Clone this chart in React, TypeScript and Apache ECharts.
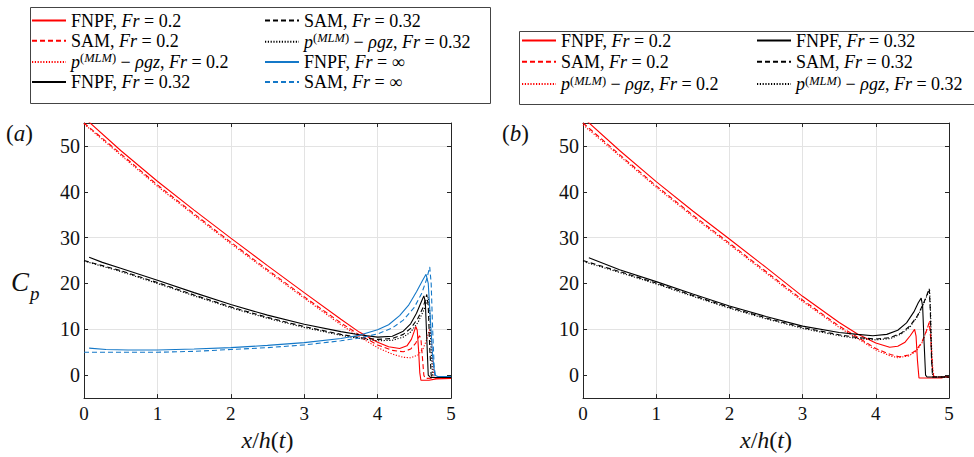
import React, { useEffect, useRef } from 'react';
import * as echarts from 'echarts';

// ---------------- DATA ----------------
const X_TICK_VALUES = [0, 1, 2, 3, 4, 5];
const Y_TICK_VALUES = [0, 10, 20, 30, 40, 50];

// Panel (a)
const fnpf02A: [number, number][] = [[0, 56.2], [0.5, 49.0], [1, 42.3], [1.5, 36.0], [2, 29.9], [2.5, 23.9], [3, 18.0], [3.5, 12.2], [3.75, 9.4], [4, 7.2], [4.15, 6.2], [4.3, 5.8], [4.4, 6.4], [4.46, 7.8], [4.5, 9.6], [4.52, 10.6], [4.54, 9.8], [4.56, 5.0], [4.575, 0.5], [4.59, -1.1], [4.7, -1.1], [4.8, -0.8], [5, -0.7]];
const sam02A: [number, number][] = [[0, 55.0], [0.5, 48.3], [1, 41.5], [1.5, 35.2], [2, 29.0], [2.5, 23.0], [3, 17.1], [3.5, 11.4], [3.75, 8.8], [4, 6.6], [4.2, 5.4], [4.35, 5.1], [4.45, 5.7], [4.52, 7.0], [4.57, 8.6], [4.59, 8.0], [4.61, 4.0], [4.63, 0], [4.65, -0.7], [5, -0.6]];
const mlm02A: [number, number][] = [[0, 54.8], [0.5, 48.0], [1, 41.2], [1.5, 34.9], [2, 28.7], [2.5, 22.7], [3, 16.8], [3.5, 11.0], [3.75, 8.4], [4, 6.0], [4.2, 4.6], [4.35, 3.9], [4.45, 3.8], [4.55, 4.4], [4.62, 5.8], [4.67, 7.8], [4.71, 10.1], [4.73, 8.5], [4.75, 3], [4.77, -0.5], [5, -0.6]];
const fnpf032A: [number, number][] = [[0.07, 25.7], [0.25, 24.6], [0.5, 23.3], [1, 20.7], [1.5, 18.0], [2, 15.4], [2.5, 13.1], [3, 11.1], [3.5, 9.5], [3.75, 8.8], [4, 8.3], [4.2, 8.5], [4.35, 9.6], [4.45, 11.2], [4.53, 13.5], [4.59, 15.8], [4.63, 17.3], [4.65, 16], [4.67, 8], [4.69, 0], [4.72, -0.5], [5, -0.5]];
const sam032A: [number, number][] = [[0, 25.0], [0.5, 22.8], [1, 20.2], [1.5, 17.5], [2, 14.9], [2.5, 12.6], [3, 10.6], [3.5, 8.9], [3.75, 8.2], [4, 7.8], [4.2, 8.0], [4.35, 8.9], [4.45, 10.2], [4.55, 12.4], [4.62, 14.8], [4.67, 17.6], [4.69, 15], [4.71, 6], [4.73, 0], [4.75, -0.5], [5, -0.5]];
const mlm032A: [number, number][] = [[0, 24.9], [0.5, 22.6], [1, 20.0], [1.5, 17.3], [2, 14.7], [2.5, 12.4], [3, 10.4], [3.5, 8.7], [3.75, 8.0], [4, 7.5], [4.2, 7.6], [4.35, 8.3], [4.45, 9.4], [4.55, 11.5], [4.63, 14.2], [4.69, 17.0], [4.71, 14], [4.73, 5], [4.75, 0], [4.77, -0.5], [5, -0.5]];
const fnpfInfA: [number, number][] = [[0.07, 5.9], [0.3, 5.6], [0.6, 5.5], [1, 5.5], [1.5, 5.7], [2, 6.0], [2.5, 6.5], [3, 7.1], [3.5, 8.0], [3.75, 8.7], [4, 9.9], [4.15, 11.0], [4.3, 13.0], [4.42, 15.2], [4.53, 18.2], [4.61, 20.6], [4.66, 22.0], [4.69, 20], [4.72, 12], [4.75, 4], [4.78, 0], [4.82, -0.3], [5, -0.3]];
const samInfA: [number, number][] = [[0, 5.0], [0.5, 5.0], [1, 5.0], [1.5, 5.2], [2, 5.6], [2.5, 6.0], [3, 6.6], [3.5, 7.5], [3.75, 8.1], [4, 9.0], [4.2, 10.3], [4.35, 12.0], [4.5, 14.8], [4.6, 17.8], [4.67, 21.0], [4.71, 23.6], [4.73, 20], [4.75, 10], [4.77, 2], [4.79, -0.3], [5, -0.3]];

// Panel (b)
const fnpf02B: [number, number][] = [[0, 56.2], [0.5, 49.0], [1, 42.2], [1.5, 35.8], [2, 29.7], [2.5, 23.5], [3, 17.2], [3.5, 11.5], [3.75, 9.0], [4, 7.0], [4.19, 6.1], [4.3, 6.3], [4.4, 7.2], [4.47, 8.6], [4.53, 10.0], [4.55, 8.5], [4.57, 3.0], [4.59, -0.6], [4.9, -0.6], [4.95, -0.3], [5, -0.5]];
const sam02B: [number, number][] = [[0, 55.0], [0.5, 48.1], [1, 41.3], [1.5, 34.9], [2, 28.8], [2.5, 22.6], [3, 16.4], [3.5, 10.7], [3.75, 8.3], [4, 5.8], [4.2, 4.5], [4.32, 4.0], [4.45, 4.4], [4.55, 5.4], [4.63, 7.2], [4.69, 9.6], [4.73, 11.5], [4.75, 8], [4.77, 2], [4.79, -0.4], [5, -0.4]];
const mlm02B: [number, number][] = [[0, 54.6], [0.5, 47.8], [1, 41.0], [1.5, 34.6], [2, 28.5], [2.5, 22.3], [3, 16.1], [3.5, 10.4], [3.75, 8.0], [4, 5.5], [4.2, 4.2], [4.3, 3.8], [4.45, 4.2], [4.55, 5.2], [4.63, 7.0], [4.69, 9.6], [4.74, 11.8], [4.76, 7], [4.78, 1], [4.8, -0.4], [5, -0.4]];
const fnpf032B: [number, number][] = [[0.08, 25.6], [0.5, 23.0], [1, 20.4], [1.5, 17.7], [2, 15.1], [2.5, 12.8], [3, 10.7], [3.5, 9.3], [3.75, 8.9], [3.96, 8.6], [4.15, 8.9], [4.3, 9.8], [4.42, 11.4], [4.52, 13.8], [4.58, 15.8], [4.62, 16.8], [4.64, 15], [4.66, 7], [4.68, 0], [4.7, -0.4], [5, -0.4]];
const sam032B: [number, number][] = [[0, 25.0], [0.5, 22.6], [1, 20.1], [1.5, 17.4], [2, 14.8], [2.5, 12.5], [3, 10.4], [3.5, 8.8], [3.75, 8.2], [4, 7.9], [4.2, 8.2], [4.35, 9.2], [4.47, 10.8], [4.57, 13.0], [4.65, 15.6], [4.7, 17.6], [4.73, 18.9], [4.745, 14], [4.76, 4], [4.775, -0.4], [5, -0.4]];
const mlm032B: [number, number][] = [[0, 24.8], [0.5, 22.4], [1, 19.9], [1.5, 17.2], [2, 14.6], [2.5, 12.3], [3, 10.2], [3.5, 8.6], [3.75, 8.0], [4, 7.7], [4.2, 8.0], [4.35, 9.0], [4.47, 10.6], [4.57, 12.8], [4.65, 15.4], [4.7, 17.4], [4.735, 18.6], [4.75, 13], [4.765, 3], [4.78, -0.4], [5, -0.4]];

const NAMES = {
  fnpf02: 'FNPF, Fr = 0.2',
  sam02: 'SAM, Fr = 0.2',
  mlm02: 'p(MLM) − ρgz, Fr = 0.2',
  fnpf032: 'FNPF, Fr = 0.32',
  sam032: 'SAM, Fr = 0.32',
  mlm032: 'p(MLM) − ρgz, Fr = 0.32',
  fnpfInf: 'FNPF, Fr = ∞',
  samInf: 'SAM, Fr = ∞',
};

const RICH_LABEL: Record<string, string> = {
  [NAMES.fnpf02]: '{n|FNPF, }{i|Fr}{n| = 0.2}',
  [NAMES.sam02]: '{n|SAM, }{i|Fr}{n| = 0.2}',
  [NAMES.mlm02]: '{i|p}{s|(}{si|MLM}{s|)}{n| − }{i|ρgz}{n|, }{i|Fr}{n| = 0.2}',
  [NAMES.fnpf032]: '{n|FNPF, }{i|Fr}{n| = 0.32}',
  [NAMES.sam032]: '{n|SAM, }{i|Fr}{n| = 0.32}',
  [NAMES.mlm032]: '{i|p}{s|(}{si|MLM}{s|)}{n| − }{i|ρgz}{n|, }{i|Fr}{n| = 0.32}',
  [NAMES.fnpfInf]: '{n|FNPF, }{i|Fr}{n| = ∞}',
  [NAMES.samInf]: '{n|SAM, }{i|Fr}{n| = ∞}',
};

const RED = '#ff0000';
const BLACK = '#000000';
const BLUE = '#1478c8';
const FONT = 'Liberation Serif';
const AXIS_COLOR = '#262626';
const GRID_COLOR = '#e3e3e3';

export default function App() {
  const ref = useRef<HTMLDivElement>(null);

  useEffect(() => {
    if (!ref.current) return;
    const chart = echarts.init(ref.current, null, { renderer: 'svg' });

    const grids = [
      { left: 84, top: 123, width: 367, height: 280 },
      { left: 583, top: 123, width: 366, height: 280 },
    ];

    const xAxes: any[] = [];
    const yAxes: any[] = [];
    grids.forEach((_, gi) => {
      xAxes.push({
        type: 'value', gridIndex: gi, position: 'bottom', min: 0, max: 5, interval: 1,
        axisLine: { show: true, onZero: false, lineStyle: { color: AXIS_COLOR, width: 1 } },
        axisTick: { show: true, inside: true, length: 4, lineStyle: { color: AXIS_COLOR } },
        axisLabel: { show: true, margin: 6, fontFamily: FONT, fontSize: 19, color: '#111',
          customValues: X_TICK_VALUES },
        splitLine: { show: true, lineStyle: { color: GRID_COLOR, width: 1 } },
      });
      xAxes.push({
        type: 'value', gridIndex: gi, position: 'top', min: 0, max: 5, interval: 1,
        axisLine: { show: true, onZero: false, lineStyle: { color: AXIS_COLOR, width: 1 } },
        axisTick: { show: true, inside: true, length: 4, lineStyle: { color: AXIS_COLOR } },
        axisLabel: { show: false },
        splitLine: { show: false },
      });
      yAxes.push({
        type: 'value', gridIndex: gi, position: 'left', min: -5, max: 55, interval: 5,
        axisLine: { show: true, onZero: false, lineStyle: { color: AXIS_COLOR, width: 1 } },
        axisTick: { show: true, inside: true, length: 4, lineStyle: { color: AXIS_COLOR },
          customValues: Y_TICK_VALUES },
        axisLabel: { show: true, margin: 4, fontFamily: FONT, fontSize: 20, color: '#111',
          customValues: Y_TICK_VALUES },
        splitLine: { show: true, lineStyle: { color: ['rgba(0,0,0,0)', GRID_COLOR], width: 1 } },
      });
      yAxes.push({
        type: 'value', gridIndex: gi, position: 'right', min: -5, max: 55, interval: 5,
        axisLine: { show: true, onZero: false, lineStyle: { color: AXIS_COLOR, width: 1 } },
        axisTick: { show: true, inside: true, length: 4, lineStyle: { color: AXIS_COLOR },
          customValues: Y_TICK_VALUES },
        axisLabel: { show: false },
        splitLine: { show: false },
      });
    });
    [0, 2].forEach((ai) => {
      xAxes[ai].name = '{i|x}{n|/}{i|h}{n|(}{i|t}{n|)}';
      xAxes[ai].nameLocation = 'middle';
      xAxes[ai].nameGap = 23;
      xAxes[ai].nameTextStyle = {
        fontFamily: FONT, fontSize: 24, color: '#111',
        rich: {
          i: { fontFamily: FONT, fontSize: 24, fontStyle: 'italic', color: '#111' },
          n: { fontFamily: FONT, fontSize: 24, color: '#111' },
        },
      };
    });

    const mk = (name: string, data: [number, number][], color: string, type: any, gi: number) => ({
      type: 'line', name, data,
      xAxisIndex: gi * 2, yAxisIndex: gi * 2,
      symbol: 'none', showSymbol: false, clip: true,
      lineStyle: { color, width: 1.1, type },
      itemStyle: { color },
      emphasis: { disabled: true },
      z: 3,
    });

    const DASH = [5, 3];
    const DOT = [1.2, 1.6];

    const series = [
      mk(NAMES.fnpf02, fnpf02A, RED, 'solid', 0),
      mk(NAMES.sam02, sam02A, RED, DASH, 0),
      mk(NAMES.mlm02, mlm02A, RED, DOT, 0),
      mk(NAMES.fnpf032, fnpf032A, BLACK, 'solid', 0),
      mk(NAMES.sam032, sam032A, BLACK, DASH, 0),
      mk(NAMES.mlm032, mlm032A, BLACK, DOT, 0),
      mk(NAMES.fnpfInf, fnpfInfA, BLUE, 'solid', 0),
      mk(NAMES.samInf, samInfA, BLUE, DASH, 0),
      mk(NAMES.fnpf02, fnpf02B, RED, 'solid', 1),
      mk(NAMES.sam02, sam02B, RED, DASH, 1),
      mk(NAMES.mlm02, mlm02B, RED, DOT, 1),
      mk(NAMES.fnpf032, fnpf032B, BLACK, 'solid', 1),
      mk(NAMES.sam032, sam032B, BLACK, DASH, 1),
      mk(NAMES.mlm032, mlm032B, BLACK, DOT, 1),
    ];

    const LF = 18;
    const richStyles = {
      n: { fontFamily: FONT, fontSize: LF, color: '#000', lineHeight: 20 },
      i: { fontFamily: FONT, fontSize: LF, fontStyle: 'italic', color: '#000', lineHeight: 20 },
      s: { fontFamily: FONT, fontSize: 12.5, color: '#000', lineHeight: 20, verticalAlign: 'top' },
      si: { fontFamily: FONT, fontSize: 12.5, fontStyle: 'italic', color: '#000', lineHeight: 20, verticalAlign: 'top' },
    };
    const mkLegend = (names: string[], left: number, top: number, gap: number) => ({
      orient: 'vertical', left, top, padding: 0, itemGap: gap,
      itemWidth: 34, itemHeight: 14,
      selectedMode: false,
      itemStyle: { opacity: 0 },
      data: names,
      formatter: (nm: string) => RICH_LABEL[nm] || nm,
      textStyle: { fontFamily: FONT, fontSize: LF, color: '#000', rich: richStyles },
    });

    const legends = [
      mkLegend([NAMES.fnpf02, NAMES.sam02, NAMES.mlm02, NAMES.fnpf032], 31, 11.5, 2.2),
      mkLegend([NAMES.sam032, NAMES.mlm032, NAMES.fnpfInf, NAMES.samInf], 264, 11.5, 2.2),
      mkLegend([NAMES.fnpf02, NAMES.sam02, NAMES.mlm02], 521, 31.5, 3.3),
      mkLegend([NAMES.fnpf032, NAMES.sam032, NAMES.mlm032], 756, 31.5, 3.3),
    ];

    const textStyle = (size: number, italic = false) => ({
      fontFamily: FONT, fontSize: size, fontStyle: italic ? 'italic' : 'normal', fill: '#111',
    });

    const graphic = [
      { type: 'rect', left: 28, top: 5, shape: { width: 460, height: 96 },
        style: { fill: 'none', stroke: '#444', lineWidth: 1 }, z: 0 },
      { type: 'rect', left: 517, top: 29, shape: { width: 470, height: 73 },
        style: { fill: 'none', stroke: '#444', lineWidth: 1 }, z: 0 },
      { type: 'text', left: 6, top: 122, style: { ...textStyle(23), text: '{n|(}{i|a}{n|)}',
        rich: { n: textStyle(23), i: textStyle(23, true) } } },
      { type: 'text', left: 502, top: 122, style: { ...textStyle(23), text: '{n|(}{i|b}{n|)}',
        rich: { n: textStyle(23), i: textStyle(23, true) } } },
      { type: 'text', left: 11, top: 268, style: { ...textStyle(27, true), text: 'C' } },
      { type: 'text', left: 30, top: 284, style: { ...textStyle(19, true), text: 'p' } },
    ];

    chart.setOption({
      animation: false,
      backgroundColor: '#fff',
      grid: grids.map((g) => ({ ...g, containLabel: false, show: false })),
      xAxis: xAxes,
      yAxis: yAxes,
      legend: legends,
      series,
      graphic,
    });

    return () => chart.dispose();
  }, []);

  return (
    <div
      ref={ref}
      style={{ position: 'absolute', left: 0, top: 0, width: 974, height: 457 }}
    />
  );
}
